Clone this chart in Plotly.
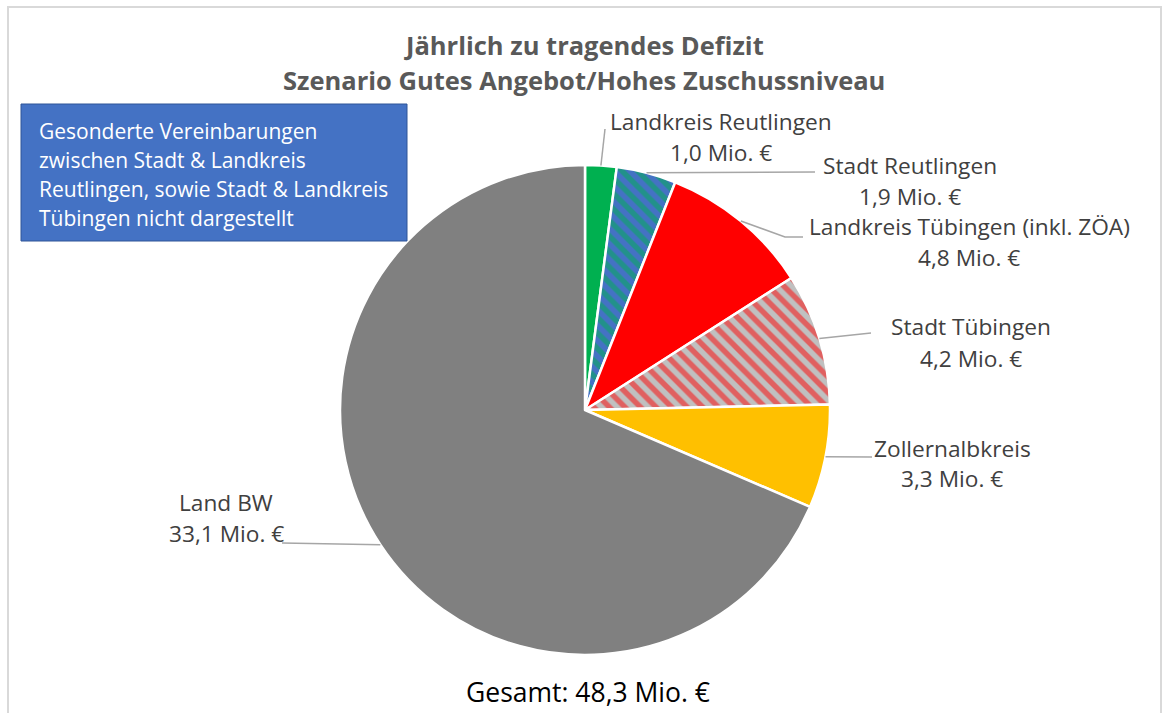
import math
import plotly.graph_objects as go

# ---- data ----
labels = ["Landkreis Reutlingen", "Stadt Reutlingen", "Landkreis Tübingen (inkl. ZÖA)",
          "Stadt Tübingen", "Zollernalbkreis", "Land BW"]
values = [1.0, 1.9, 4.8, 4.2, 3.3, 33.1]
colors = ["#00B050", "#4472C4", "#FF0000", "#C0C0C0", "#FFC000", "#808080"]
pattern_shapes = ["", "\\", "", "\\", "", ""]
pattern_fg = ["#00B050", "#00B050", "#FF0000", "#FF0000", "#FFC000", "#808080"]
title_lines = ["Jährlich zu tragendes Defizit", "Szenario Gutes Angebot/Hohes Zuschussniveau"]
note_lines = ["Gesonderte Vereinbarungen", "zwischen Stadt & Landkreis",
              "Reutlingen, sowie Stadt & Landkreis", "Tübingen nicht dargestellt"]
total_label = "Gesamt: 48,3 Mio. €"

# ---- layout geometry (pixels) ----
W, H = 1166, 713
cx, cy, R = 585, 410, 245
# label positions: (center x, y of first line, leader end points)
label_pos = [
    (721, 121, [(605, 129)]),
    (910, 165, [(815, 172)]),
    (969, 226, [(785, 237), (803, 237)]),
    (971, 327, [(871, 333)]),
    (952, 448, [(872, 457)]),
    (226, 502, [(282, 543)]),
]
line_gap = 31
FONT = "Open Sans"

def px(x):
    return x / W

def py(y):
    return 1 - y / H

def fmt(v):
    return f"{v:.1f}".replace(".", ",") + " Mio. €"

fig = go.Figure()
fig.add_trace(go.Pie(
    labels=labels, values=values, sort=False, direction="clockwise", rotation=0,
    textinfo="none", hoverinfo="label+value", showlegend=False,
    marker=dict(colors=colors, line=dict(color="white", width=2.5),
                pattern=dict(shape=pattern_shapes, fgcolor=pattern_fg, bgcolor=colors,
                             size=11, solidity=0.5, fillmode="overlay")),
    domain=dict(x=[px(cx - R), px(cx + R)], y=[py(cy + R), py(cy - R)]),
))

shapes = []
annotations = []
# chart frame
shapes.append(dict(type="rect", xref="paper", yref="paper", x0=px(8), x1=px(1161), y0=py(730), y1=py(7),
                   line=dict(color="#D9D9D9", width=2), fillcolor="rgba(0,0,0,0)", layer="below"))

total = sum(values)
cum = 0.0
for lab, v, (lx, ly, ends) in zip(labels, values, label_pos):
    mid = (cum + v / 2) / total * 2 * math.pi
    cum += v
    sx = cx + R * math.sin(mid)
    sy = cy - R * math.cos(mid)
    pts = [(sx, sy)] + ends
    path = "M " + " L ".join(f"{px(a)},{py(b)}" for a, b in pts)
    shapes.append(dict(type="path", xref="paper", yref="paper", path=path,
                       line=dict(color="#A6A6A6", width=1.5)))
    for i, t in enumerate([lab, fmt(v)]):
        annotations.append(dict(x=px(lx), y=py(ly + i * line_gap), xref="paper", yref="paper",
                                text=t, showarrow=False, xanchor="center", yanchor="middle",
                                font=dict(family=FONT, size=22.7, color="#404040")))

# title
for i, t in enumerate(title_lines):
    annotations.append(dict(x=px(584), y=py(45 + i * 35), xref="paper", yref="paper",
                            text=f"<b>{t}</b>", showarrow=False, xanchor="center", yanchor="middle",
                            font=dict(family=FONT, size=25.5, color="#595959")))

# note box
shapes.append(dict(type="rect", xref="paper", yref="paper", x0=px(21), x1=px(407), y0=py(241), y1=py(104),
                   fillcolor="#4472C4", line=dict(color="#2F5597", width=1)))
for i, t in enumerate(note_lines):
    annotations.append(dict(x=px(37), y=py(131 + i * 29), xref="paper", yref="paper",
                            text=t, showarrow=False, xanchor="left", yanchor="middle",
                            font=dict(family=FONT, size=21, color="white")))

# total
annotations.append(dict(x=px(588), y=py(692), xref="paper", yref="paper", text=total_label,
                        showarrow=False, xanchor="center", yanchor="middle",
                        font=dict(family=FONT, size=26.5, color="black")))

fig.update_layout(width=W, height=H, margin=dict(l=0, r=0, t=0, b=0),
                  paper_bgcolor="white", plot_bgcolor="white",
                  shapes=shapes, annotations=annotations)
fig.write_html("out.html", config={"displayModeBar": False},
               post_script="document.body.style.margin='0';document.body.style.overflow='hidden';")
